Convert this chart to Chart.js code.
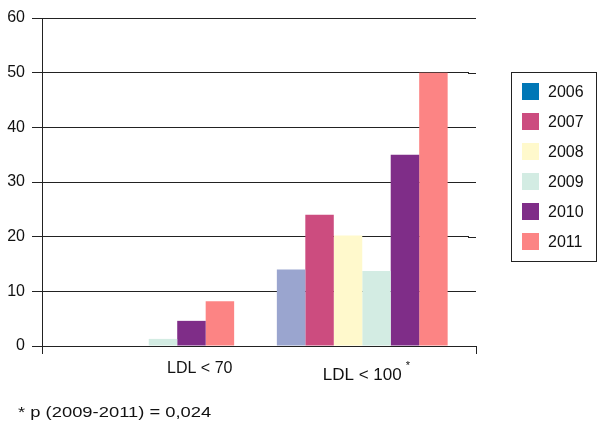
<!DOCTYPE html>
<html>
<head>
<meta charset="utf-8">
<script src="https://cdn.jsdelivr.net/npm/chart.js@4/dist/chart.umd.min.js"></script>
<style>
  html, body { margin: 0; padding: 0; background: #fff; }
  #wrap { position: relative; width: 598px; height: 422px; font-family: "Liberation Sans", Arial, sans-serif; color: #111; }
  #c { position: absolute; left: 0; top: 0; }
  #legend { position: absolute; left: 511px; top: 72px; width: 84px; height: 188px; border: 1px solid #222; }
  .row { position: absolute; left: 10px; height: 17px; font-size: 16px; line-height: 17px; }
  .sw { position: absolute; left: 0; top: 0; width: 17px; height: 17px; }
  .lt { position: absolute; left: 26px; top: 0; white-space: nowrap; }
  #note { position: absolute; left: 18px; top: 403px; font-size: 15px; line-height: 18px; white-space: nowrap;
          transform: scaleX(1.225); transform-origin: 0 50%; }
</style>
</head>
<body>
<div id="wrap">
  <canvas id="c" width="598" height="422"></canvas>
  <div id="legend"></div>
  <div id="note">* p (2009-2011) = 0,024</div>
</div>
<script>
// Categories and values (% of patients reaching each LDL target, per year)
const categories = ['LDL < 70', 'LDL < 100'];
const years = ['2006', '2007', '2008', '2009', '2010', '2011'];
const v2006 = [0, 14];
const v2007 = [0, 24];
const v2008 = [0, 20.2];
const v2009 = [1.3, 13.7];
const v2010 = [4.6, 35];
const v2011 = [8.2, 50];
const yTicks = [0, 10, 20, 30, 40, 50, 60];

const barColors = ['#9aa5cf', '#cc4c7f', '#fff9cc', '#d3ece3', '#7f2d88', '#fc8484'];
const keyColors = ['#0077b6', '#cc4c7f', '#fff9cc', '#d3ece3', '#7f2d88', '#fc8484'];
const series = [v2006, v2007, v2008, v2009, v2010, v2011];

// Category label placement and the marker on the second label
const labelShift = [51, 0];
const labelSize = [16, 17];
const labelY = [369, 375];
const labelMark = ['', '*'];

// The frame runs a little past the last category slot
const frameExtra = 7;
const axisColor = '#222';

const datasets = years.map((y, i) => ({
  label: y,
  data: series[i],
  backgroundColor: barColors[i],
  borderWidth: 0,
  categoryPercentage: 0.8,
  barPercentage: 1.0
}));

const frameAndLabels = {
  id: 'frameAndLabels',
  afterDraw(chart) {
    const ctx = chart.ctx;
    const xs = chart.scales.x;
    const ys = chart.scales.y;
    const a = chart.chartArea;
    ctx.save();
    // extend horizontal rules and the baseline to the right end of the frame
    ctx.strokeStyle = axisColor;
    ctx.lineWidth = 1;
    ctx.beginPath();
    yTicks.forEach(v => {
      const py = Math.round(ys.getPixelForValue(v)) + 0.5;
      ctx.moveTo(a.right - 1, py);
      ctx.lineTo(a.right + frameExtra, py);
    });
    const px = Math.round(a.right + frameExtra) + 0.5;
    const by = Math.round(ys.getPixelForValue(0));
    ctx.moveTo(px, by);
    ctx.lineTo(px, by + 8);
    ctx.stroke();

    // category labels
    ctx.fillStyle = '#111';
    ctx.textBaseline = 'middle';
    ctx.textAlign = 'left';
    categories.forEach((lab, i) => {
      const cx = xs.getPixelForValue(i) + labelShift[i];
      ctx.font = labelSize[i] + 'px "Liberation Sans", Arial, sans-serif';
      const w = ctx.measureText(lab).width;
      ctx.fillText(lab, cx - w / 2, labelY[i]);
      if (labelMark[i]) {
        ctx.font = '11px "Liberation Sans", Arial, sans-serif';
        ctx.fillText(labelMark[i], cx + w / 2 + 4, labelY[i] - 9);
      }
    });
    ctx.restore();
  }
};

new Chart(document.getElementById('c'), {
  type: 'bar',
  data: { labels: categories, datasets },
  options: {
    responsive: false,
    animation: false,
    layout: { padding: { top: 18, right: 122 + frameExtra, left: 0, bottom: 0 } },
    plugins: { legend: { display: false }, tooltip: { enabled: false } },
    scales: {
      x: {
        offset: true,
        grid: {
          offset: true,
          drawOnChartArea: false,
          drawTicks: true,
          tickLength: 8,
          color: (c) => (c.index === 0 ? axisColor : 'rgba(0,0,0,0)'),
          lineWidth: 1
        },
        border: { display: true, color: axisColor, width: 1 },
        ticks: { color: 'rgba(0,0,0,0)', font: { size: 16 } },
        afterFit(s) { s.height = 76; }
      },
      y: {
        min: 0,
        max: 60,
        afterBuildTicks(s) { s.ticks = yTicks.map(v => ({ value: v })); },
        grid: { color: axisColor, lineWidth: 1, tickLength: 10, drawTicks: true },
        border: { display: true, color: axisColor, width: 1 },
        ticks: {
          color: '#111',
          padding: 7,
          font: { family: '"Liberation Sans", Arial, sans-serif', size: 16 }
        },
        afterFit(s) { s.width = 42; }
      }
    }
  },
  plugins: [frameAndLabels]
});

// Key box built from the same series names and colours
const legend = document.getElementById('legend');
years.forEach((y, i) => {
  const row = document.createElement('div');
  row.className = 'row';
  row.style.top = (9.5 + i * 30) + 'px';
  const sw = document.createElement('div');
  sw.className = 'sw';
  sw.style.background = keyColors[i];
  const t = document.createElement('div');
  t.className = 'lt';
  t.textContent = y;
  row.appendChild(sw);
  row.appendChild(t);
  legend.appendChild(row);
});
</script>
</body>
</html>
